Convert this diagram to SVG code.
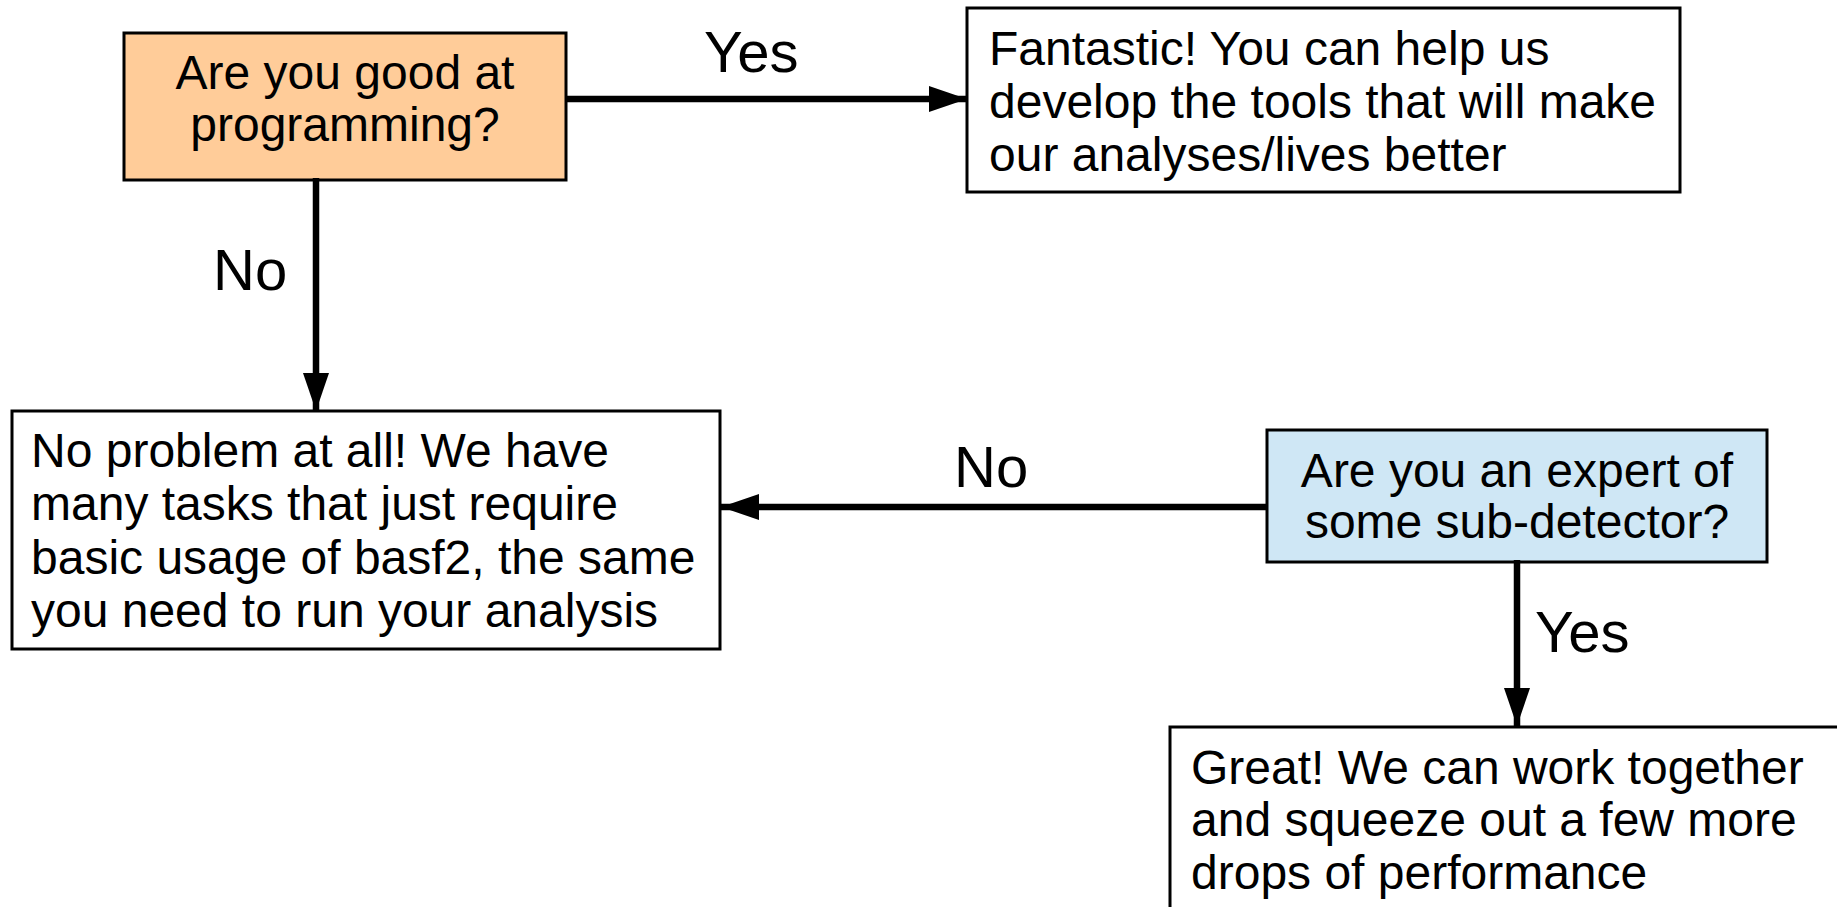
<svg xmlns="http://www.w3.org/2000/svg" width="1837" height="907" viewBox="0 0 1837 907">
<style>
.box{stroke:#000;stroke-width:3}
.t{font-family:"Liberation Sans",Arial,sans-serif;font-size:48px;fill:#000}
.c{text-anchor:middle}
.lbl{font-family:"Liberation Sans",Arial,sans-serif;font-size:58px;fill:#000}
.conn{stroke:#000;stroke-width:6.5;fill:none}
</style>
<defs>
<marker id="ah" markerUnits="userSpaceOnUse" markerWidth="40" markerHeight="28" refX="38" refY="13" orient="auto">
<path d="M0,0 L38,13 L0,26 Z" fill="#000"/>
</marker>
</defs>
<rect width="1837" height="907" fill="#fff"/>
<g id="q1">
<rect class="box" x="124" y="33" width="442" height="147" fill="#ffcc99"/>
<text class="t c" x="345" y="89">Are you good at</text>
<text class="t c" x="345" y="141">programming?</text>
</g>
<g id="fantastic">
<rect class="box" x="967" y="8" width="713" height="184" fill="#fff"/>
<text class="t" x="989" y="65">Fantastic! You can help us</text>
<text class="t" x="989" y="118">develop the tools that will make</text>
<text class="t" x="989" y="171">our analyses/lives better</text>
</g>
<g id="noproblem">
<rect class="box" x="12" y="411" width="708" height="238" fill="#fff"/>
<text class="t" x="31" y="467">No problem at all! We have</text>
<text class="t" x="31" y="520">many tasks that just require</text>
<text class="t" x="31" y="574">basic usage of basf2, the same</text>
<text class="t" x="31" y="627">you need to run your analysis</text>
</g>
<g id="q2">
<rect class="box" x="1267" y="430" width="500" height="132" fill="#cfe7f5"/>
<text class="t c" x="1517" y="487">Are you an expert of</text>
<text class="t c" x="1517" y="538">some sub-detector?</text>
</g>
<g id="great">
<rect class="box" x="1170" y="727" width="700" height="220" fill="#fff"/>
<text class="t" x="1191" y="784">Great! We can work together</text>
<text class="t" x="1191" y="836">and squeeze out a few more</text>
<text class="t" x="1191" y="889">drops of performance</text>
</g>
<g id="connectors">
<line class="conn" x1="566" y1="99" x2="967" y2="99" marker-end="url(#ah)"/>
<line class="conn" x1="316" y1="178" x2="316" y2="411" marker-end="url(#ah)"/>
<line class="conn" x1="1267" y1="507" x2="721" y2="507" marker-end="url(#ah)"/>
<line class="conn" x1="1517" y1="560" x2="1517" y2="726" marker-end="url(#ah)"/>
<text class="lbl" x="704" y="72">Yes</text>
<text class="lbl" x="213" y="290">No</text>
<text class="lbl" x="954" y="487">No</text>
<text class="lbl" x="1535" y="652">Yes</text>
</g>
</svg>
